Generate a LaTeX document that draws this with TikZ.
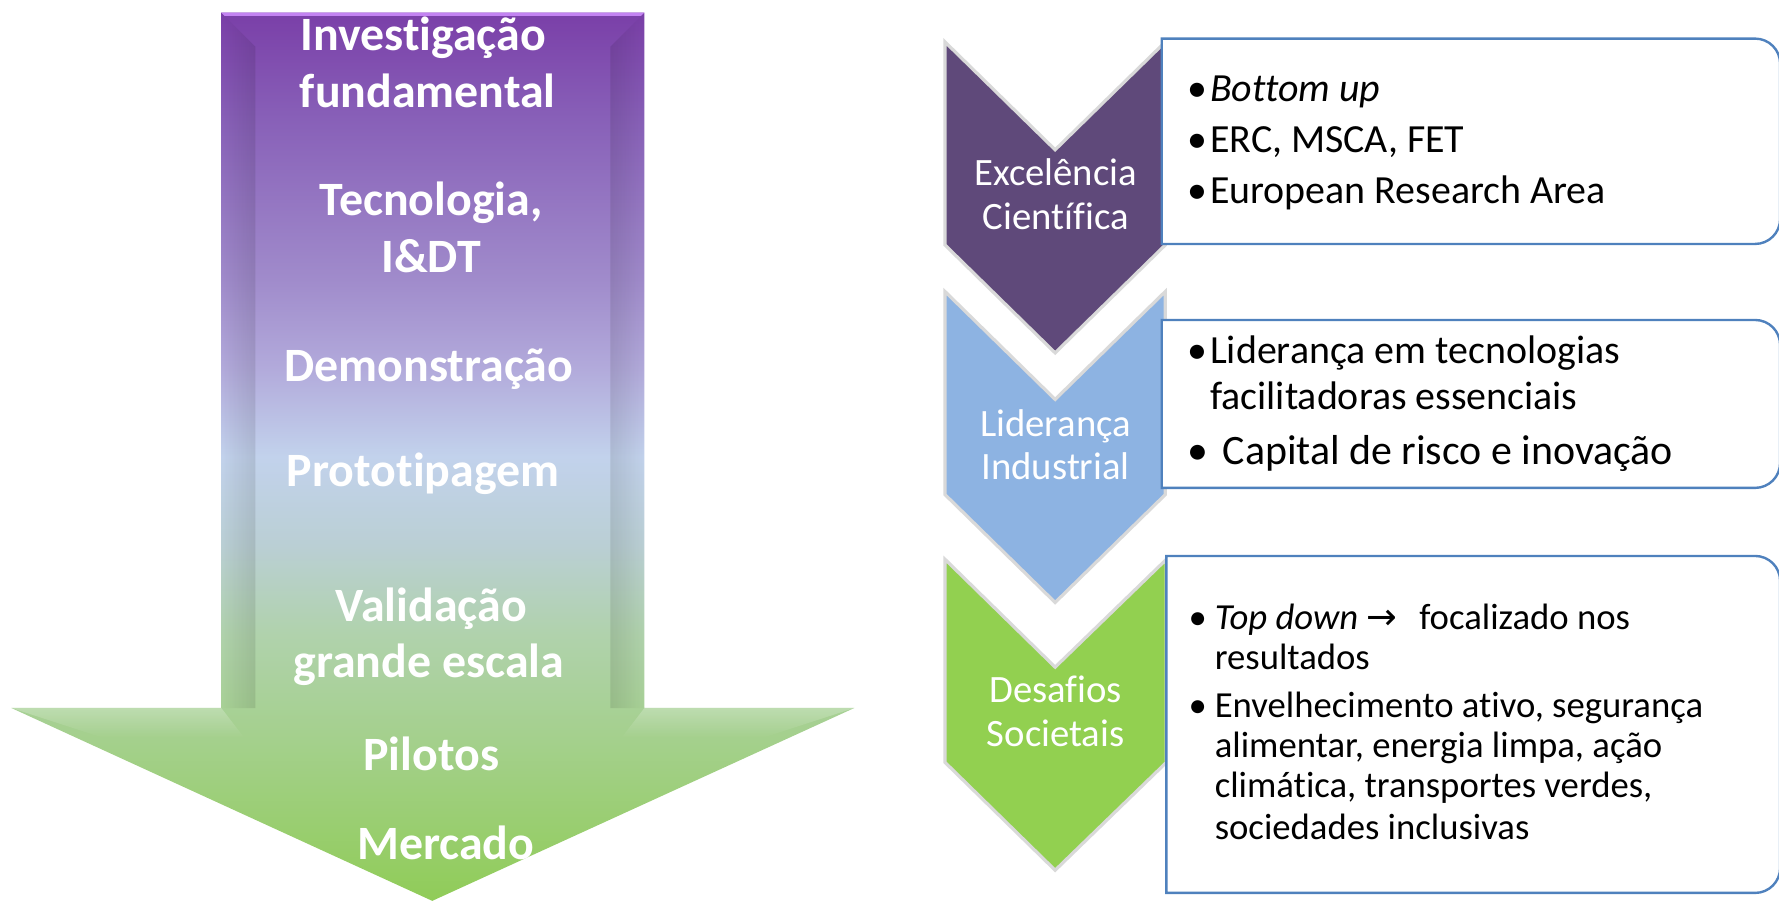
\documentclass[tikz,border=0pt]{standalone}
\usepackage{fontspec}
\setmainfont{Carlito}[Ligatures=CommonOff]
\newfontfamily\arrowfont{DejaVu Sans}
\usetikzlibrary{fadings}
\definecolor{chevpurple}{HTML}{5F497A}
\definecolor{chevblue}{HTML}{8DB3E2}
\definecolor{chevgreen}{HTML}{92D050}
\definecolor{boxline}{HTML}{4F81BD}
\definecolor{flowA}{HTML}{7A3FA8}
\definecolor{flowB}{HTML}{8860B8}
\definecolor{flowC}{HTML}{A08BCB}
\definecolor{flowD}{HTML}{B2AADB}
\definecolor{flowE}{HTML}{C2D2EC}
\definecolor{flowF}{HTML}{BACFD4}
\definecolor{flowG}{HTML}{B0D2AC}
\definecolor{flowH}{HTML}{A4D08C}
\definecolor{flowI}{HTML}{90CC58}
\definecolor{flowtop}{HTML}{C383F2}
\pgfdeclareverticalshading{flowshade}{100bp}{color(0bp)=(flowI); color(25bp)=(flowI); color(34bp)=(flowH); color(40bp)=(flowG); color(45bp)=(flowF); color(50bp)=(flowE); color(55bp)=(flowD); color(60bp)=(flowC); color(69bp)=(flowB); color(75bp)=(flowA); color(100bp)=(flowA)}
\newcommand{\bul}[1][0.2cm]{\makebox[#1][l]{•}}

\begin{document}
\begin{tikzpicture}[x=0.01cm,y=-0.01cm,
	flowlbl/.style={text=white,font=\bfseries\fontsize{12}{14}\selectfont,anchor=base,inner sep=0pt},
	chevlbl/.style={text=white,font=\fontsize{9.7}{11}\selectfont,anchor=base,inner sep=0pt},
	itemtxt/.style={text=black,font=\fontsize{10}{12}\selectfont,anchor=base west,inner sep=0pt},
	smalltxt/.style={itemtxt,font=\fontsize{9.2}{11}\selectfont},
	bevel/.style={fill=black,fill opacity=0.1},
	chev/.style={draw=black!15,line width=0.8pt},
	infobox/.style={draw=boxline,fill=white,line width=0.6pt}]
		\useasboundingbox (0,0) rectangle (1568,798.5);
		\shade[shading=flowshade] (195,11) -- (568,11) -- (568,624) -- (753,624) -- (381,794) -- (10,624) -- (195,624) -- cycle;
		\fill[bevel,path fading=west] (195,11) -- (225,41) -- (225,624) -- (195,624) -- cycle;
		\fill[bevel,path fading=east] (568,11) -- (538,41) -- (538,624) -- (568,624) -- cycle;
		\fill[flowtop] (195,11) -- (568,11) -- (565,14) -- (198,14) -- cycle;
		\fill[white,fill opacity=0.25,path fading=south] (10,624) -- (195,624) -- (215,650) -- (90,650) -- cycle;
		\fill[white,fill opacity=0.25,path fading=south] (753,624) -- (568,624) -- (548,650) -- (673,650) -- cycle;
		\node[flowlbl] (inv) at (373,44.5) {Investigação};
		\node[flowlbl] (fun) at (377,95) {fundamental};
		\node[flowlbl] (tec) at (380,189.6) {Tecnologia,};
		\node[flowlbl] (idt) at (380,240) {I\&DT};
		\node[flowlbl] (dem) at (378,336) {Demonstração};
		\node[flowlbl] (pro) at (373,429) {Prototipagem};
		\node[flowlbl] (val) at (380,548) {Validação};
		\node[flowlbl] (gra) at (378,597) {grande escala};
		\node[flowlbl] (pil) at (380,679) {Pilotos};
		\node[flowlbl] (mer) at (393,757.5) {Mercado};

		\filldraw[chev,fill=chevpurple] (833,37) -- (930,132) -- (1027,37) -- (1027,216) -- (930,311) -- (833,216) -- cycle;
		\filldraw[chev,fill=chevblue] (833,257) -- (930,352) -- (1027,257) -- (1027,436) -- (930,531) -- (833,436) -- cycle;
		\filldraw[chev,fill=chevgreen] (833,493) -- (930,588) -- (1028,493) -- (1028,672) -- (930,767) -- (833,672) -- cycle;
		\node[chevlbl] (exc) at (930.5,163.9) {Excelência};
		\node[chevlbl] (cie) at (930.5,202.6) {Científica};
		\node[chevlbl] (lid) at (930.5,384.7) {Liderança};
		\node[chevlbl] (ind) at (930.5,422.9) {Industrial};
		\node[chevlbl] (des) at (930.5,619.6) {Desafios};
		\node[chevlbl] (soc) at (930.5,657.8) {Societais};

		\filldraw[infobox] (1024,34) -- (1300,34) [rounded corners=0.22cm] -- (1569,34) -- (1569,215) -- (1300,215) [sharp corners] -- (1024,215) -- cycle;
		\filldraw[infobox] (1024,282) -- (1300,282) [rounded corners=0.22cm] -- (1569,282) -- (1569,430) -- (1300,430) [sharp corners] -- (1024,430) -- cycle;
		\filldraw[infobox] (1028,490) -- (1300,490) [rounded corners=0.22cm] -- (1569,490) -- (1569,787) -- (1300,787) [sharp corners] -- (1028,787) -- cycle;

		\node[itemtxt] (bot) at (1046,89.6) {\bul\textit{Bottom up}};
		\node[itemtxt] (erc) at (1046,134.5) {\bul ERC, MSCA, FET};
		\node[itemtxt] (era) at (1046,179) {\bul European Research Area};
		\node[itemtxt] (lte) at (1046,320) {\bul Liderança em tecnologias};
		\node[itemtxt] (fac) at (1066,361) {facilitadoras essenciais};
		\node[itemtxt,font=\fontsize{10.5}{12}\selectfont] (cap) at (1046,409.7) {\bul[0.31cm]Capital de risco e inovação};
		\node[smalltxt] (tdn) at (1047,554.4) {\bul[0.23cm]\textit{Top down} {\arrowfont →}\hspace{0.6em}focalizado nos};
		\node[smalltxt] (res) at (1070,589.7) {resultados};
		\node[smalltxt] (env) at (1047,632) {\bul[0.23cm]Envelhecimento ativo, segurança};
		\node[smalltxt] (ali) at (1070,668) {alimentar, energia limpa, ação};
		\node[smalltxt] (cli) at (1070,703.3) {climática, transportes verdes,};
		\node[smalltxt] (sinc) at (1070,740) {sociedades inclusivas};
\end{tikzpicture}
\end{document}
